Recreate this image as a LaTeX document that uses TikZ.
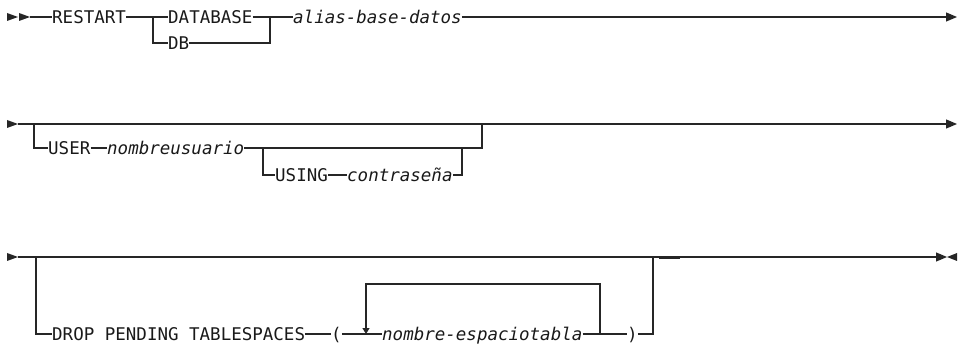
\documentclass[tikz,border=0pt]{standalone}
\usepackage{fontspec}
\setmonofont{DejaVu Sans Mono}
\usetikzlibrary{arrows.meta}
\colorlet{railcol}{black!85}

\begin{document}
\begin{tikzpicture}[x=1pt,y=-1pt,
  font=\ttfamily\fontsize{17.5}{20}\selectfont,
  rail/.style={draw=railcol,line width=1.2pt},
  endflow/.style={rail,-{Triangle[length=11pt,width=9pt]}},
  loopflow/.style={rail,-{Triangle[length=6pt,width=7pt]}},
  railtip/.style={fill=railcol},
  kw/.style={anchor=west,inner sep=0pt,text height=12.6pt,text depth=0pt,
    text=black!90},
  var/.style={kw,font=\ttfamily\itshape\fontsize{17.5}{20}\selectfont}]
\useasboundingbox (0,0) rectangle (961,347);

% row 1
\fill[railtip] (7,13)--(18,17)--(7,21)--cycle;
\fill[railtip] (19,13)--(30,17)--(19,21)--cycle;
\coordinate (start1) at (30,17);
\node[kw] (restart) at (52,17) {RESTART};
\node[kw] (database) at (168,17) {DATABASE};
\node[kw] (db) at (168,43) {DB};
\node[var] (alias) at (293,17) {alias-base-datos};
\coordinate (j1a) at (153,17);
\coordinate (j1b) at (153,43);
\coordinate (j1c) at (270,17);
\coordinate (j1d) at (270,43);
\coordinate (end1) at (957,17);
\draw[rail] (start1) -- (restart.west);
\draw[rail] (restart.east) -- (j1a) -- (database.west);
\draw[rail] (j1a) -- (j1b) -- (db.west);
\draw[rail] (database.east) -- (j1c) -- (alias.west);
\draw[rail] (db.east) -- (j1d) -- (j1c);
\draw[endflow] (alias.east) -- (end1);

% row 2
\fill[railtip] (7,120)--(18,124)--(7,128)--cycle;
\coordinate (start2) at (18,124);
\coordinate (end2) at (957,124);
\node[kw] (user) at (48,148) {USER};
\node[var] (nombreu) at (107,148) {nombreusuario};
\node[kw] (using) at (275,175) {USING};
\node[var] (contra) at (347,175) {contraseña};
\coordinate (j2a) at (34,124);
\coordinate (j2b) at (34,148);
\coordinate (j2c) at (263,148);
\coordinate (j2d) at (263,175);
\coordinate (j2e) at (462,175);
\coordinate (j2f) at (462,148);
\coordinate (j2g) at (482,148);
\coordinate (j2h) at (482,124);
\draw[endflow] (start2) -- (end2);
\draw[rail] (j2a) -- (j2b) -- (user.west);
\draw[rail] (user.east) -- (nombreu.west);
\draw[rail] (nombreu.east) -- (j2g) -- (j2h);
\draw[rail] (j2c) -- (j2d) -- (using.west);
\draw[rail] (using.east) -- (contra.west);
\draw[rail] (contra.east) -- (j2e) -- (j2f);

% row 3
\fill[railtip] (7,253)--(18,257)--(7,261)--cycle;
\coordinate (start3) at (18,257);
\coordinate (end3) at (947,257);
\node[kw] (drop) at (52,334) {DROP PENDING TABLESPACES};
\node[kw] (lparen) at (331,334) {(};
\node[var] (espacio) at (382,334) {nombre-espaciotabla};
\node[kw] (rparen) at (627,334) {)};
\coordinate (j3a) at (36,257);
\coordinate (j3b) at (36,334);
\coordinate (j3c) at (366,334);
\coordinate (j3d) at (366,284);
\coordinate (j3e) at (600,284);
\coordinate (j3f) at (600,334);
\coordinate (j3g) at (653,334);
\coordinate (j3h) at (653,257);
\coordinate (tick1) at (659,258.5);
\coordinate (tick2) at (680,258.5);
\draw[endflow] (start3) -- (end3);
\fill[railtip] (957,253)--(947,257)--(957,261)--cycle;
\draw[rail] (j3a) -- (j3b) -- (drop.west);
\draw[rail] (drop.east) -- (lparen.west);
\draw[rail] (lparen.east) -- (espacio.west);
\draw[rail] (espacio.east) -- (rparen.west);
\draw[rail] (rparen.east) -- (j3g) -- (j3h);
\draw[loopflow] (j3f) -- (j3e) -- (j3d) -- (j3c);
\draw[rail,line width=1.5pt] (tick1) -- (tick2);
\end{tikzpicture}
\end{document}
